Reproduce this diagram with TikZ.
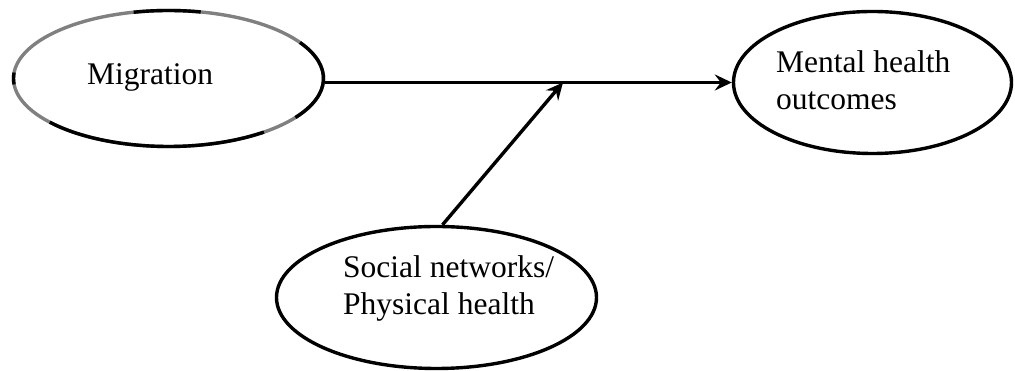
\documentclass[tikz,border=0pt]{standalone}
\usepackage{fontspec}
\setmainfont{Liberation Serif}
\usetikzlibrary{shapes.geometric,arrows.meta,calc}
\begin{document}
\begin{tikzpicture}[x=1pt,y=1pt,
  oval/.style={ellipse,draw=black,line width=3.4pt,inner sep=0pt},
  blk/.style={line width=3.4pt},
  lbl/.style={anchor=base west,inner sep=0pt,align=left,font=\fontsize{31.5}{37}\selectfont},
  conn/.style={line width=3.4pt,-{Stealth[length=17pt,width=16pt,inset=6pt]}}]
\useasboundingbox (0,0) rectangle (1015,371);
% ellipses
\node[oval,draw=black!50,minimum width=310pt,minimum height=136pt] (mig) at (168.5,292.5) {};
\node[oval,minimum width=278pt,minimum height=142pt] (ment) at (872.5,288.5) {};
\node[oval,minimum width=320pt,minimum height=142pt] (soc) at (436.5,73.5) {};
% black parts of the Migration outline
\draw[blk] ($(mig.center)+(32:155 and 68)$) arc[start angle=32,end angle=-35,x radius=155,y radius=68];
\draw[blk] ($(mig.center)+(-52:155 and 68)$) arc[start angle=-52,end angle=-140,x radius=155,y radius=68];
\draw[blk] ($(mig.center)+(103:155 and 68)$) arc[start angle=103,end angle=78,x radius=155,y radius=68];
\draw[blk] ($(mig.center)+(175:155 and 68)$) arc[start angle=175,end angle=185,x radius=155,y radius=68];
% labels
\node[lbl] (tmig) at (87,286) {Migration};
\node[lbl] (tment) at (776,261) {Mental health\\outcomes};
\node[lbl] (tsoc) at (343,56) {Social networks/\\Physical health};
% connectors
\coordinate (meet) at (563,288.5);
\draw[conn] (mig.east |- ment.west) -- (ment.west);
\draw[conn] ($(soc.north)+(6,0)$) -- (meet);
\end{tikzpicture}
\end{document}
